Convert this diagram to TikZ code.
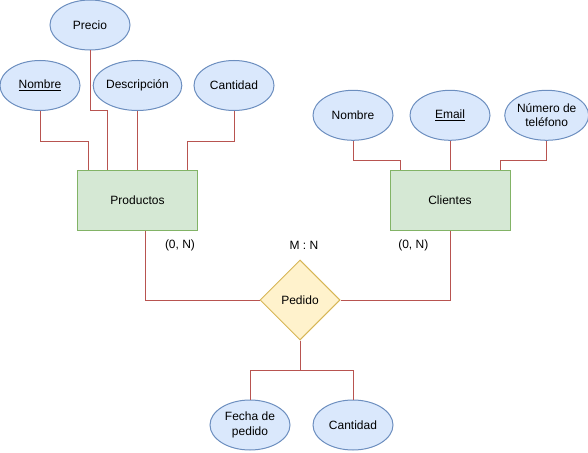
\documentclass[tikz,border=0pt]{standalone}
\usepackage{fontspec}
\setmainfont{Liberation Sans}
\usetikzlibrary{shapes.geometric}

\definecolor{attrfill}{HTML}{DAE8FC}
\definecolor{attrline}{HTML}{6C8EBF}
\definecolor{entfill}{HTML}{D5E8D4}
\definecolor{entline}{HTML}{82B366}
\definecolor{relfill}{HTML}{FFF2CC}
\definecolor{relline}{HTML}{D6B656}
\definecolor{linkred}{HTML}{B85450}

\begin{document}
\begin{tikzpicture}[x=1pt, y=-1pt, line width=1pt,
  font=\fontsize{12}{14.5}\selectfont,
  attr/.style={ellipse, draw=attrline, fill=attrfill, minimum width=80pt, minimum height=50pt, inner sep=0pt, align=center},
  entity/.style={rectangle, draw=entline, fill=entfill, minimum width=120pt, minimum height=60pt, inner sep=0pt},
  relation/.style={diamond, draw=relline, fill=relfill, shape aspect=1, minimum size=80pt, inner sep=0pt},
  link/.style={draw=linkred, line width=1pt}]

  %% ════ entidades ════
  \node[entity] (productos) at (137.5,200) {Productos};
  \node[entity] (clientes)  at (450,200)   {Clientes};

  %% ════ relación ════
  \node[relation] (pedido) at (300,300) {Pedido};

  %% ════ atributos de Productos ════
  \node[attr] (prodNombre) at (40,85.5)    {\underline{Nombre}};
  \node[attr] (prodPrecio) at (90,25)      {Precio};
  \node[attr] (prodDesc)   at (137.5,85.5) {Descripción};
  \node[attr] (prodCant)   at (234,85.5)   {Cantidad};

  %% ════ atributos de Clientes ════
  \node[attr] (cliNombre) at (353,115.3)   {Nombre};
  \node[attr] (cliEmail)  at (450,115.3)   {\underline{Email}};
  \node[attr] (cliTel)    at (546.7,115.3) {Número de\\teléfono};

  %% ════ atributos de Pedido ════
  \node[attr] (pedFecha) at (250,425)   {Fecha de\\pedido};
  \node[attr] (pedCant)  at (353,425)   {Cantidad};

  %% ════ cardinalidades ════
  \node (cardProd) at (180,245)   {(0, N)};
  \node (cardRel)  at (304,245)   {M : N};
  \node (cardCli)  at (413.3,245) {(0, N)};

  %% ════ conectores ════
  \draw[link] (prodNombre.south) -- ++(0,30) -| ([xshift=-49.5pt]productos.north);
  \draw[link] (prodPrecio.south) -- ++(0,60) -| ([xshift=-30.5pt]productos.north);
  \draw[link] (prodDesc.south) -- (productos.north);
  \draw[link] (prodCant.south) -- ++(0,30) -| ([xshift=49.5pt]productos.north);

  \draw[link] (cliNombre.south) -- ++(0,19.7) -| ([xshift=-49.5pt]clientes.north);
  \draw[link] (cliEmail.south) -- (clientes.north);
  \draw[link] (cliTel.south) -- ++(0,19.7) -| ([xshift=50pt]clientes.north);

  \draw[link] ([xshift=7.5pt]productos.south) |- (pedido.west);
  \draw[link] (clientes.south) |- (pedido.east);

  \draw[link] (pedido.south) -- ++(0,30) -| (pedFecha.north);
  \draw[link] (pedido.south) -- ++(0,30) -| (pedCant.north);

  % lienzo fijo
  \pgfresetboundingbox
  \path[use as bounding box] (0,0) rectangle (588,452);
\end{tikzpicture}
\end{document}
